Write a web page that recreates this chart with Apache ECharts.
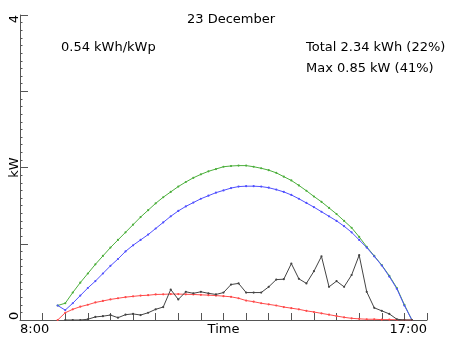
<!DOCTYPE html>
<html>
<head>
<meta charset="utf-8">
<script src="https://cdn.jsdelivr.net/npm/echarts@6/dist/echarts.min.js"></script>
<style>
html,body{margin:0;padding:0;background:#fff;}
#chart{width:452px;height:339px;}
</style>
</head>
<body>
<div id="chart"></div>
<script>
// Data (kW), one point every 10 minutes
var times = ["8:50","9:00","9:10","9:20","9:30","9:40","9:50","10:00","10:10","10:20","10:30","10:40",
  "10:50","11:00","11:10","11:20","11:30","11:40","11:50","12:00","12:10","12:20","12:30","12:40",
  "12:50","13:00","13:10","13:20","13:30","13:40","13:50","14:00","14:10","14:20","14:30","14:40",
  "14:50","15:00","15:10","15:20","15:30","15:40","15:50","16:00","16:10","16:20","16:30","16:40"];
var clearSky = [0.19,0.22,0.36,0.49,0.61,0.73,0.84,0.95,1.05,1.15,1.25,1.35,
  1.44,1.53,1.61,1.68,1.75,1.81,1.865,1.91,1.95,1.98,2.01,2.02,
  2.025,2.025,2.01,1.99,1.965,1.93,1.88,1.83,1.765,1.695,1.62,1.55,
  1.47,1.39,1.30,1.21,1.09,0.96,0.84,0.72,0.58,0.42,0.20,0];
var expected = [0.19,0.13,0.22,0.32,0.42,0.51,0.61,0.71,0.80,0.90,0.98,1.05,
  1.12,1.20,1.28,1.36,1.43,1.49,1.54,1.59,1.63,1.67,1.70,1.73,
  1.75,1.755,1.755,1.75,1.735,1.71,1.68,1.64,1.59,1.535,1.48,1.42,
  1.36,1.30,1.23,1.15,1.05,0.95,0.835,0.715,0.57,0.41,0.19,0];
var diffuse = [0,0.095,0.14,0.175,0.20,0.23,0.25,0.27,0.285,0.30,0.31,0.32,
  0.325,0.335,0.337,0.34,0.34,0.337,0.335,0.33,0.326,0.32,0.313,0.304,
  0.285,0.255,0.24,0.22,0.205,0.19,0.17,0.155,0.14,0.12,0.105,0.087,
  0.07,0.052,0.035,0.022,0.015,0.01,0.01,0.005,0.005,0.003,0,0];
var actual = [null,0,0,0,0.01,0.04,0.05,0.065,0.03,0.07,0.08,0.065,
  0.095,0.14,0.17,0.40,0.27,0.37,0.35,0.37,0.35,0.335,0.36,0.465,
  0.48,0.36,0.36,0.36,0.435,0.53,0.535,0.74,0.54,0.48,0.64,0.835,
  0.435,0.51,0.435,0.59,0.85,0.37,0.16,0.12,0.08,0.01,0,0];
var xTickLabels = {480:"8:00", 750:"Time", 1020:"17:00"};
var yTickLabels = {0:"0", 2:"kW", 4:"4"};
var titleText = "23 December";
var yieldText = "0.54 kWh/kWp";
var totalText = "Total 2.34 kWh (22%)";
var maxText = "Max 0.85 kW (41%)";

function toMin(t){ var p = t.split(":"); return (+p[0])*60 + (+p[1]); }
function pairs(arr){ return times.map(function(t,i){ return [toMin(t), arr[i]]; }); }

var FONT = "DejaVu Sans";
var chart = echarts.init(document.getElementById('chart'), null, {renderer:'canvas'});
function lineSeries(arr, color){
  return {
    type:'line', data:pairs(arr), symbol:'circle', symbolSize:2.2, showSymbol:true,
    lineStyle:{color:color, width:1}, itemStyle:{color:color}, animation:false, connectNulls:false
  };
}
chart.setOption({
  animation:false,
  textStyle:{fontFamily:FONT},
  grid:{left:20, right:25, top:15, bottom:19, containLabel:false},
  title:[
    {text:titleText, left:226, top:8, textAlign:'center', textStyle:{fontFamily:FONT,fontSize:13,fontWeight:'normal',color:'#000'}},
  ],
  graphic:[
    {type:'text', left:61, top:41, style:{text:yieldText, font:'13px "DejaVu Sans"', fill:'#000'}},
    {type:'text', left:306, top:41, style:{text:totalText, font:'13px "DejaVu Sans"', fill:'#000'}},
    {type:'text', left:306, top:62, style:{text:maxText, font:'13px "DejaVu Sans"', fill:'#000'}}
  ],
  xAxis:{
    type:'value', min:480, max:1020, interval:30,
    axisLine:{show:true, lineStyle:{color:'#555', width:1}},
    axisTick:{show:true, inside:true, length:7, lineStyle:{color:'#555'}},
    splitLine:{show:false},
    axisLabel:{
      show:true, margin:3, fontFamily:FONT, fontSize:13, color:'#000',
      showMinLabel:true, showMaxLabel:true, alignMinLabel:'left', alignMaxLabel:'right', hideOverlap:false,
      formatter:function(v){ return xTickLabels[v] || ''; }
    }
  },
  yAxis:{
    type:'value', min:0, max:4, interval:1,
    axisLine:{show:true, lineStyle:{color:'#555', width:1}},
    axisTick:{show:true, inside:true, length:8, lineStyle:{color:'#555'}},
    minorTick:{show:true, splitNumber:10, length:2.5, lineStyle:{color:'#555'}},
    splitLine:{show:false},
    axisLabel:{
      show:true, rotate:90, margin:-1, fontFamily:FONT, fontSize:13, color:'#000',
      showMinLabel:true, showMaxLabel:true, alignMinLabel:'left', alignMaxLabel:'right', hideOverlap:false,
      formatter:function(v){ return yTickLabels[v] || ''; }
    }
  },
  series:[
    lineSeries(clearSky, '#4caf3c'),
    lineSeries(expected, '#5050ff'),
    lineSeries(diffuse, '#ff4a4a'),
    lineSeries(actual, '#444444')
  ]
});
</script>
</body>
</html>
